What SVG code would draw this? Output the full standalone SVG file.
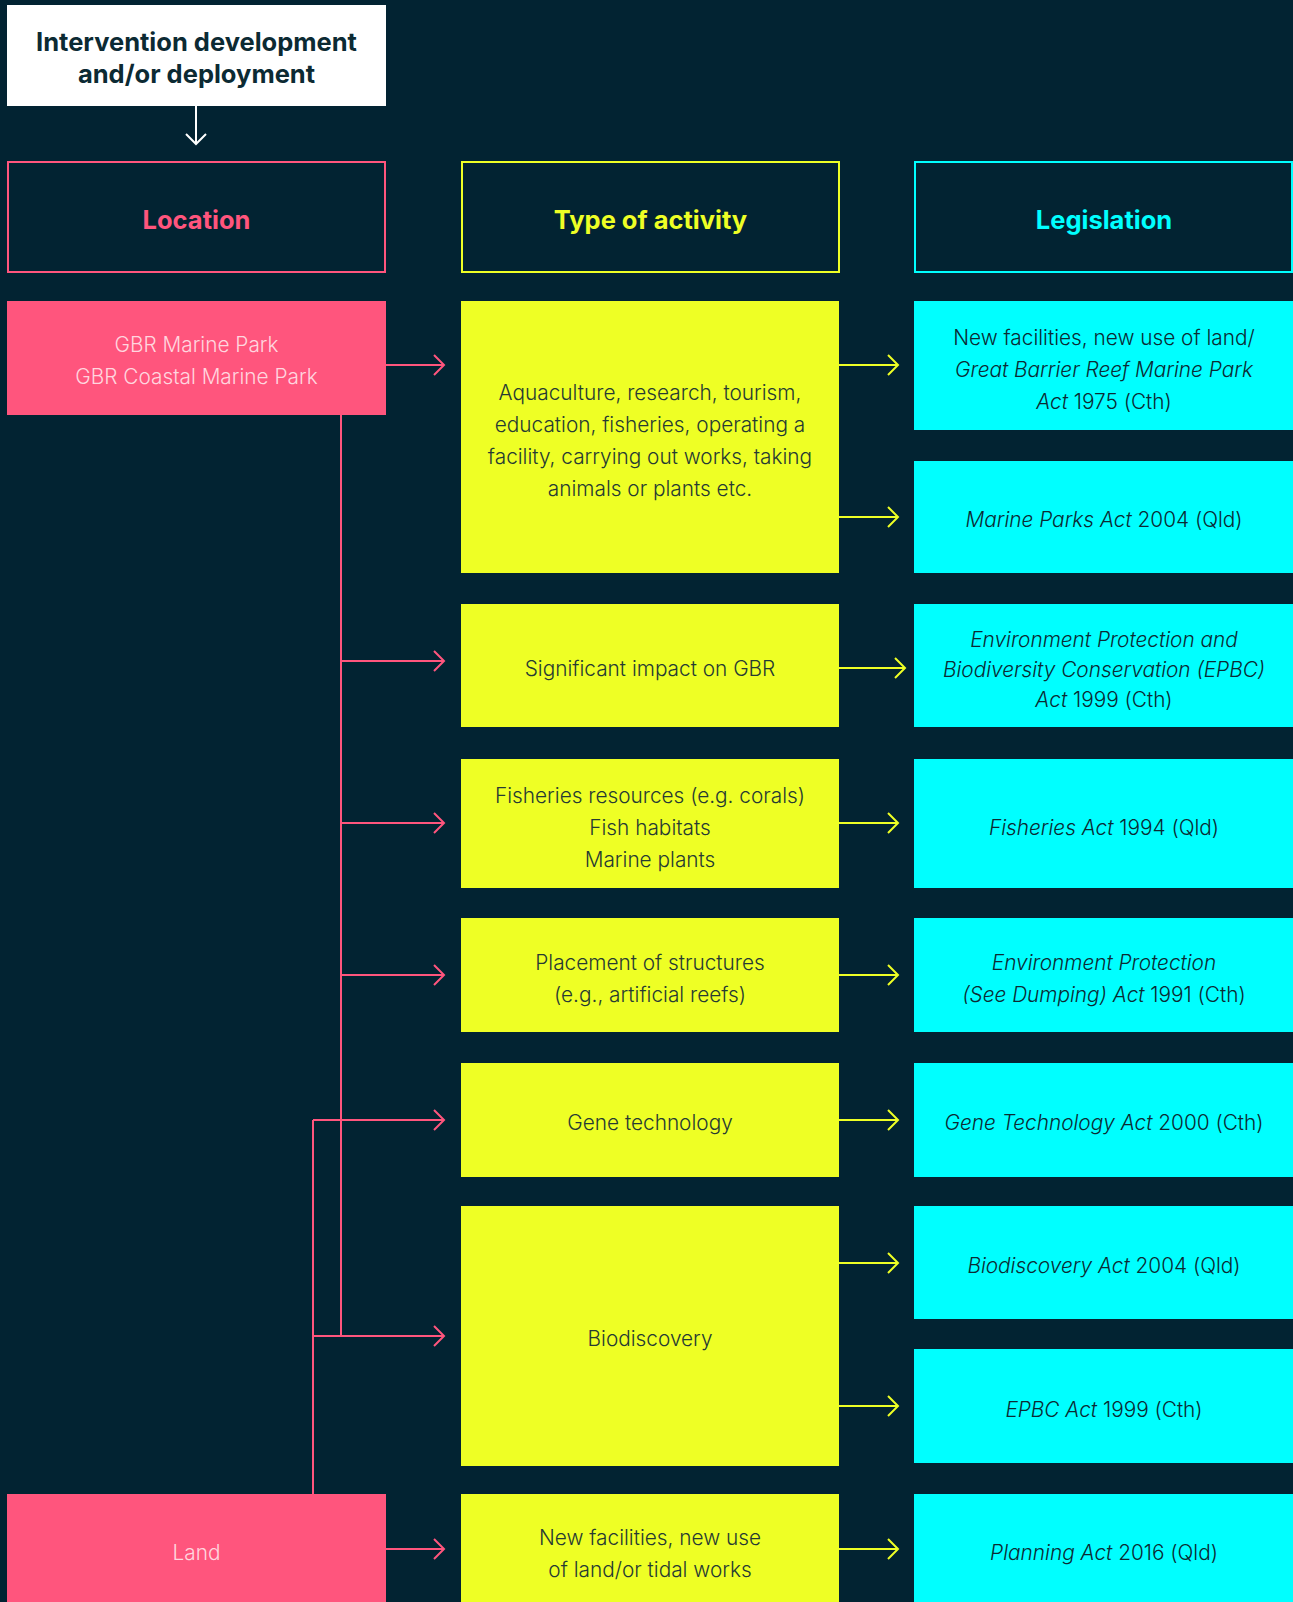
<svg xmlns="http://www.w3.org/2000/svg" width="1293" height="1602" viewBox="0 0 1293 1602">
<style>
.bg{fill:#022332}
.hdr{fill:#022332;stroke-width:2}
.pink{fill:#FF557D}
.yel{fill:#EEFF25}
.cyan{fill:#00FFFF}
text{font-family:Inter,"Noto Sans","Liberation Sans",sans-serif;text-anchor:middle}
.t{font-size:20.8px;font-weight:300}
.tp{fill:#FFD6DF}
.ty{fill:#263a33}
.tc{fill:#0c2a33}
.h{font-size:25.5px;font-weight:700}
.i{font-style:italic}
.cp{fill:none;stroke:#FF557D;stroke-width:2}
.cy{fill:none;stroke:#EEFF25;stroke-width:2}
.cw{fill:none;stroke:#FFFFFF;stroke-width:2}
</style>
<rect class="bg" x="0" y="0" width="1293" height="1602"/>

<g id="intervention">
<rect x="7" y="5" width="379" height="101" fill="#FFFFFF"/>
<text class="h" x="196.5" y="51" fill="#0c2a33">Intervention development</text>
<text class="h" x="196.5" y="83" fill="#0c2a33">and/or deployment</text>
</g>

<g id="hdr-location">
<rect class="hdr" x="8" y="162" width="377" height="110" stroke="#FF557D"/>
<text class="h" x="196.5" y="229" fill="#FF557D">Location</text>
</g>
<g id="hdr-type">
<rect class="hdr" x="462" y="162" width="377" height="110" stroke="#EEFF25"/>
<text class="h" x="650.5" y="229" fill="#EEFF25">Type of activity</text>
</g>
<g id="hdr-legislation">
<rect class="hdr" x="915" y="162" width="377" height="110" stroke="#00FFFF"/>
<text class="h" x="1104" y="229" fill="#00FFFF">Legislation</text>
</g>

<g id="loc-gbr">
<rect class="pink" x="7" y="301" width="379" height="114"/>
<text class="t tp" x="196.5" y="352">GBR Marine Park</text>
<text class="t tp" x="196.5" y="384">GBR Coastal Marine Park</text>
</g>
<g id="loc-land">
<rect class="pink" x="7" y="1494" width="379" height="108"/>
<text class="t tp" x="196.5" y="1560">Land</text>
</g>

<g id="act-aquaculture">
<rect class="yel" x="461" y="301" width="378" height="272"/>
<text class="t ty" x="650" y="400">Aquaculture, research, tourism,</text>
<text class="t ty" x="650" y="432">education, fisheries, operating a</text>
<text class="t ty" x="650" y="464">facility, carrying out works, taking</text>
<text class="t ty" x="650" y="496">animals or plants etc.</text>
</g>
<g id="act-significant">
<rect class="yel" x="461" y="604" width="378" height="123"/>
<text class="t ty" x="650" y="676">Significant impact on GBR</text>
</g>
<g id="act-fisheries">
<rect class="yel" x="461" y="759" width="378" height="129"/>
<text class="t ty" x="650" y="803">Fisheries resources (e.g. corals)</text>
<text class="t ty" x="650" y="835">Fish habitats</text>
<text class="t ty" x="650" y="867">Marine plants</text>
</g>
<g id="act-placement">
<rect class="yel" x="461" y="918" width="378" height="114"/>
<text class="t ty" x="650" y="970">Placement of structures</text>
<text class="t ty" x="650" y="1002">(e.g., artificial reefs)</text>
</g>
<g id="act-gene">
<rect class="yel" x="461" y="1063" width="378" height="114"/>
<text class="t ty" x="650" y="1130">Gene technology</text>
</g>
<g id="act-biodiscovery">
<rect class="yel" x="461" y="1206" width="378" height="260"/>
<text class="t ty" x="650" y="1346">Biodiscovery</text>
</g>
<g id="act-newfacilities">
<rect class="yel" x="461" y="1494" width="378" height="108"/>
<text class="t ty" x="650" y="1545">New facilities, new use</text>
<text class="t ty" x="650" y="1577">of land/or tidal works</text>
</g>

<g id="leg-gbrmp">
<rect class="cyan" x="914" y="301" width="379" height="129"/>
<text class="t tc" x="1104" y="345">New facilities, new use of land/</text>
<text class="t tc" x="1104" y="377"><tspan class="i">Great Barrier Reef Marine Park</tspan></text>
<text class="t tc" x="1104" y="409"><tspan class="i">Act</tspan> 1975 (Cth)</text>
</g>
<g id="leg-marineparks">
<rect class="cyan" x="914" y="461" width="379" height="112"/>
<text class="t tc" x="1104" y="527"><tspan class="i">Marine Parks Act</tspan> 2004 (Qld)</text>
</g>
<g id="leg-epbc1">
<rect class="cyan" x="914" y="604" width="379" height="123"/>
<text class="t tc" x="1104" y="647"><tspan class="i">Environment Protection and</tspan></text>
<text class="t tc" x="1104" y="677"><tspan class="i">Biodiversity Conservation (EPBC)</tspan></text>
<text class="t tc" x="1104" y="707"><tspan class="i">Act</tspan> 1999 (Cth)</text>
</g>
<g id="leg-fisheries">
<rect class="cyan" x="914" y="759" width="379" height="129"/>
<text class="t tc" x="1104" y="835"><tspan class="i">Fisheries Act</tspan> 1994 (Qld)</text>
</g>
<g id="leg-dumping">
<rect class="cyan" x="914" y="918" width="379" height="114"/>
<text class="t tc" x="1104" y="970"><tspan class="i">Environment Protection</tspan></text>
<text class="t tc" x="1104" y="1002"><tspan class="i">(See Dumping) Act</tspan> 1991 (Cth)</text>
</g>
<g id="leg-gene">
<rect class="cyan" x="914" y="1063" width="379" height="114"/>
<text class="t tc" x="1104" y="1130"><tspan class="i">Gene Technology Act</tspan> 2000 (Cth)</text>
</g>
<g id="leg-biodiscovery">
<rect class="cyan" x="914" y="1206" width="379" height="113"/>
<text class="t tc" x="1104" y="1273"><tspan class="i">Biodiscovery Act</tspan> 2004 (Qld)</text>
</g>
<g id="leg-epbc2">
<rect class="cyan" x="914" y="1349" width="379" height="114"/>
<text class="t tc" x="1104" y="1417"><tspan class="i">EPBC Act</tspan> 1999 (Cth)</text>
</g>
<g id="leg-planning">
<rect class="cyan" x="914" y="1494" width="379" height="108"/>
<text class="t tc" x="1104" y="1560"><tspan class="i">Planning Act</tspan> 2016 (Qld)</text>
</g>

<g id="connectors">
<path class="cw" d="M196 106 V144 M186 134 L196 144 L206 134"/>
<path class="cp" d="M386 365 H444 M434 355 L444 365 L434 375"/>
<path class="cp" d="M341 415 V1336"/>
<path class="cp" d="M313 1494 V1120"/>
<path class="cp" d="M341 661 H444 M434 651 L444 661 L434 671"/>
<path class="cp" d="M341 823 H444 M434 813 L444 823 L434 833"/>
<path class="cp" d="M341 975 H444 M434 965 L444 975 L434 985"/>
<path class="cp" d="M313 1120 H444 M434 1110 L444 1120 L434 1130"/>
<path class="cp" d="M313 1336 H444 M434 1326 L444 1336 L434 1346"/>
<path class="cp" d="M386 1549 H444 M434 1539 L444 1549 L434 1559"/>
<path class="cy" d="M839 365 H898 M888 355 L898 365 L888 375"/>
<path class="cy" d="M839 517 H898 M888 507 L898 517 L888 527"/>
<path class="cy" d="M839 668 H905 M895 658 L905 668 L895 678"/>
<path class="cy" d="M839 823 H898 M888 813 L898 823 L888 833"/>
<path class="cy" d="M839 975 H898 M888 965 L898 975 L888 985"/>
<path class="cy" d="M839 1120 H898 M888 1110 L898 1120 L888 1130"/>
<path class="cy" d="M839 1263 H898 M888 1253 L898 1263 L888 1273"/>
<path class="cy" d="M839 1406 H898 M888 1396 L898 1406 L888 1416"/>
<path class="cy" d="M839 1549 H898 M888 1539 L898 1549 L888 1559"/>
</g>
</svg>
